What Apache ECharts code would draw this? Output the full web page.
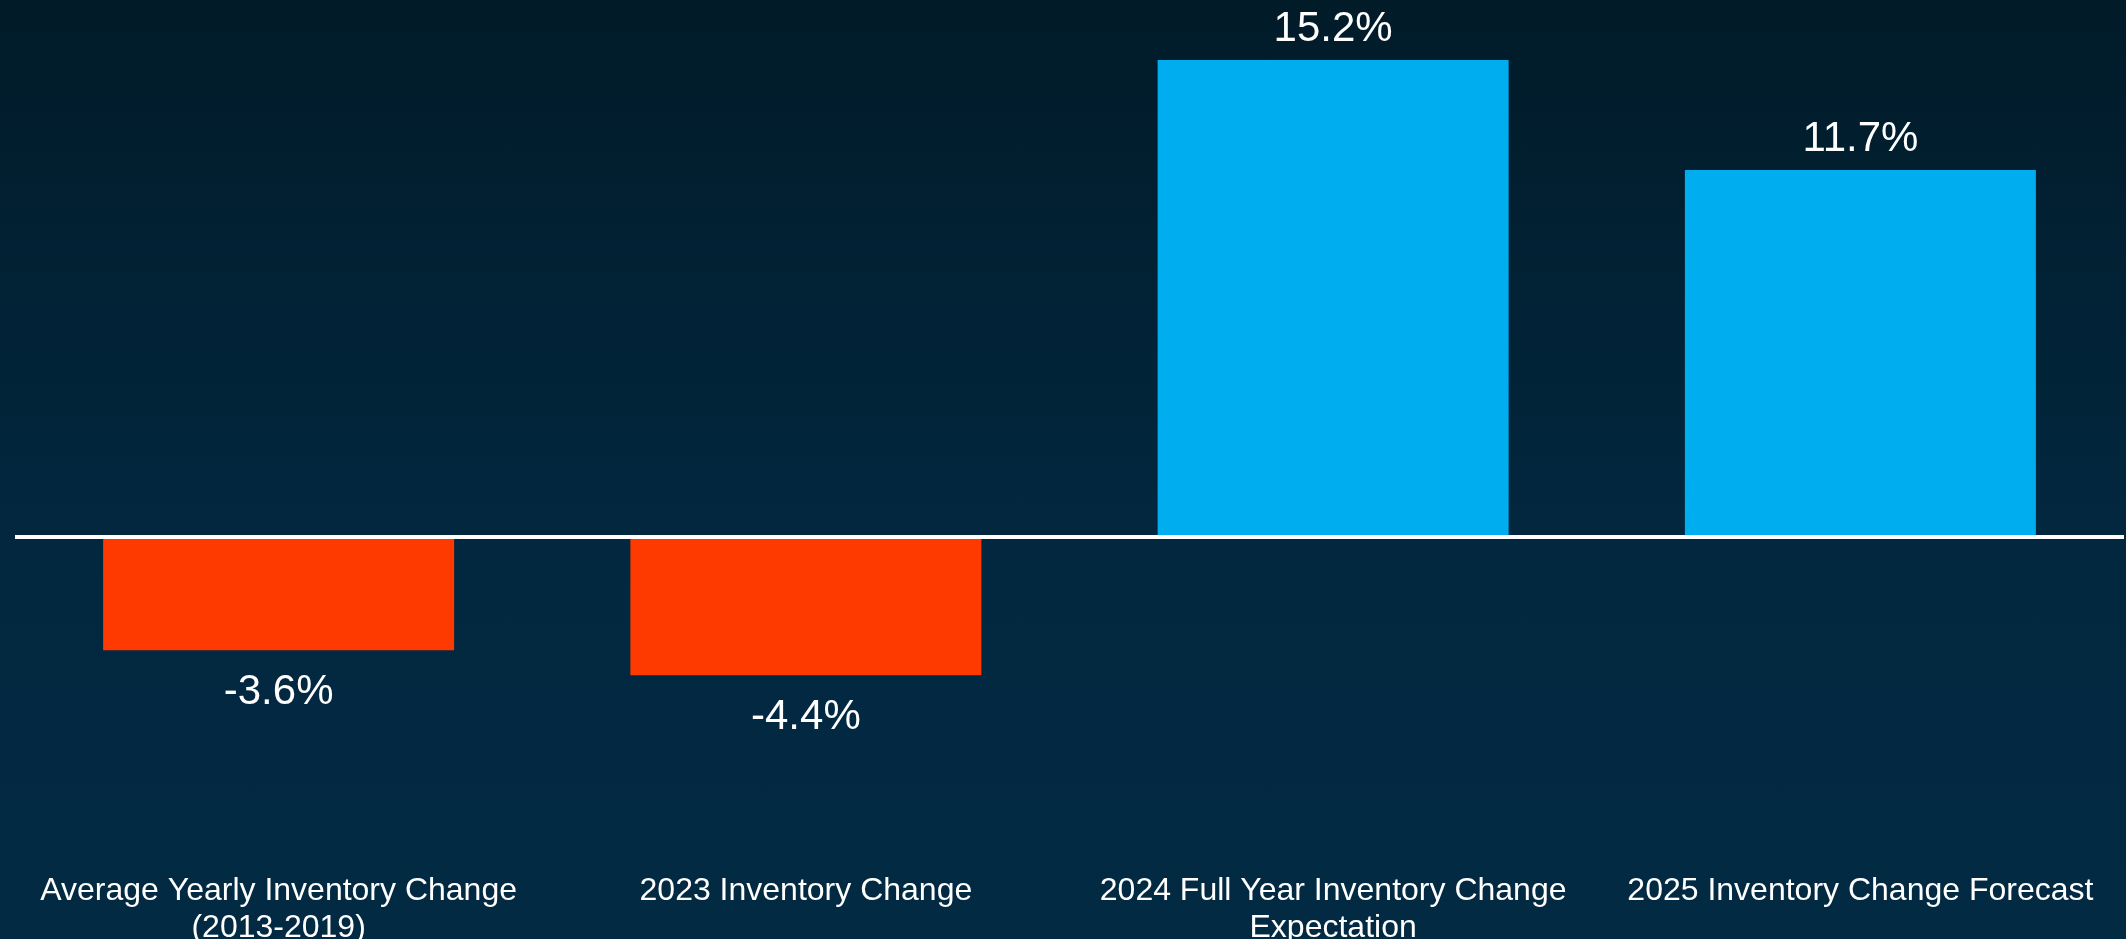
<!DOCTYPE html>
<html>
<head>
<meta charset="utf-8">
<title>Inventory Change</title>
<script src="https://cdn.jsdelivr.net/npm/echarts@6/dist/echarts.min.js"></script>
<style>
  html, body { margin: 0; padding: 0; }
  #chart {
    width: 2126px; height: 939px;
    background: linear-gradient(to bottom, #011b29 0%, #022840 60%, #022a43 100%);
  }
</style>
</head>
<body>
<div id="chart"></div>
<script>
// Categories and year-over-year inventory change (percent)
const categories = [
  'Average Yearly Inventory Change\n(2013-2019)',
  '2023 Inventory Change',
  '2024 Full Year Inventory Change\nExpectation',
  '2025 Inventory Change Forecast'
];
const changeValues = [-3.6, -4.4, 15.2, 11.7];

const POS_COLOR = '#00aeef';
const NEG_COLOR = '#ff3a00';
const FONT = '"Liberation Sans", Arial, sans-serif';

const chart = echarts.init(document.getElementById('chart'), null, { renderer: 'canvas' });

chart.setOption({
  backgroundColor: 'transparent',
  animation: false,
  grid: {
    left: 15, right: 2, top: 35, bottom: 88,
    containLabel: false,
    outerBoundsMode: 'none'
  },
  xAxis: {
    type: 'category',
    data: categories,
    axisLine: { show: false, onZero: false },
    axisTick: { show: false },
    axisLabel: {
      color: '#ffffff',
      fontFamily: FONT,
      fontSize: 32,
      lineHeight: 37,
      margin: 22,
      interval: 0
    }
  },
  yAxis: {
    type: 'value',
    min: -10,
    max: 16,
    show: false,
    splitLine: { show: false }
  },
  series: [{
    type: 'bar',
    barWidth: 351,
    data: changeValues.map(v => ({
      value: v,
      itemStyle: { color: v < 0 ? NEG_COLOR : POS_COLOR },
      label: { position: v < 0 ? 'bottom' : 'top', distance: v < 0 ? 21 : 10 }
    })),
    label: {
      show: true,
      color: '#ffffff',
      fontFamily: FONT,
      fontSize: 42,
      formatter: p => p.value + '%'
    },
    markLine: {
      silent: true,
      symbol: ['none', 'none'],
      label: { show: false },
      lineStyle: { color: '#ffffff', width: 4, type: 'solid' },
      data: [{ yAxis: 0 }]
    }
  }]
});
</script>
</body>
</html>
